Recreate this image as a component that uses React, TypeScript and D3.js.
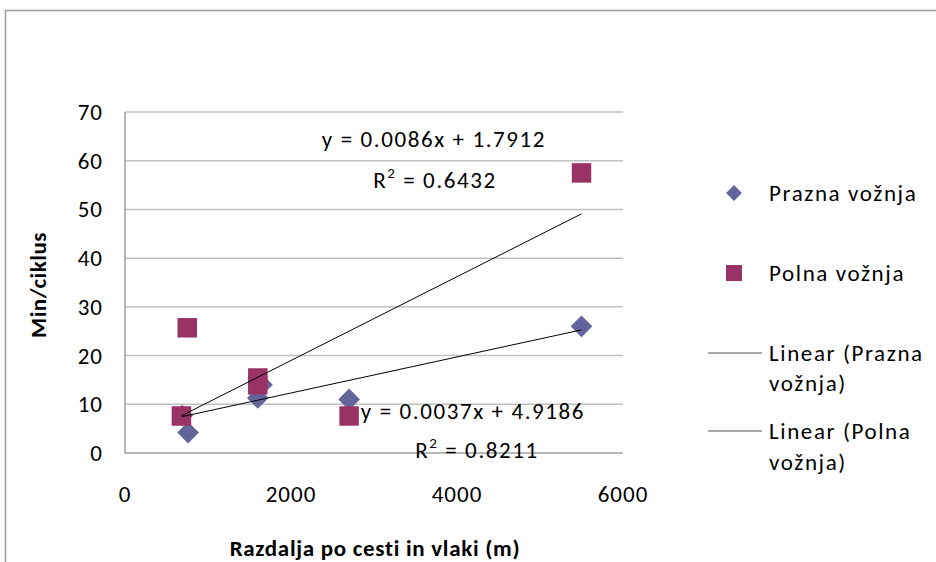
import React from "react";
import * as d3 from "d3";

const praznaX = [690, 760, 1600, 1650, 2700, 5500];
const praznaY = [7.7, 4.2, 11.3, 14, 11, 26];
const polnaX = [680, 750, 1600, 1600, 2700, 5500];
const polnaY = [7.6, 25.7, 15.4, 14, 7.6, 57.5];
const praznaTrend = [0.0037, 4.9186];
const polnaTrend = [0.0086, 1.7912];
const praznaR2 = "0.8211";
const polnaR2 = "0.6432";
const yTicks = [0, 10, 20, 30, 40, 50, 60, 70];
const xTicks = [0, 2000, 4000, 6000];
const legendLabels = ["Prazna vožnja", "Polna vožnja", "Linear (Prazna", "vožnja)", "Linear (Polna", "vožnja)"];

const W = 936, H = 562;
const FONT = "Carlito, Calibri, Lato, 'Open Sans', sans-serif";
const C_PRAZNA = "#64649c";
const C_POLNA = "#993366";
const FS = 23;
const LS = 1;
const LS2 = 1.6;

export default function App() {
  const x = d3.scaleLinear().domain([0, 6000]).range([125, 623]);
  const y = d3.scaleLinear().domain([0, 70]).range([453, 112]);
  const diamond = d3.symbol().type(d3.symbolDiamond2).size(300)();
  const square = d3.symbol().type(d3.symbolSquare).size(380)();
  const trendLine = (xs: number[], c: number[]) => {
    const x0 = d3.min(xs) as number, x1 = d3.max(xs) as number;
    return d3.line<number>().x((v) => x(v)).y((v) => y(c[0] * v + c[1]))([x0, x1]);
  };
  const T = (props: any) => <text fontSize={FS} letterSpacing={LS} fill="#000" dy="0.35em" {...props} />;
  return (
    <svg width={W} height={H} style={{ position: "absolute", left: 0, top: 0, background: "#fff" }} fontFamily={FONT}>
      <rect x={0} y={0} width={W} height={H} fill="#fff" />
      <path d="M5.5,562 V10.5 H936" fill="none" stroke="#9a9a9a" strokeWidth={1.5} />
      {yTicks.map((t) => (
        <g key={t}>
          {t > 0 && <line x1={x(0)} x2={x(6000)} y1={y(t)} y2={y(t)} stroke="#c0c0c0" strokeWidth={1.5} />}
          <T x={103} y={y(t)} textAnchor="end">{t}</T>
        </g>
      ))}
      <path d={`M${x(0)},${y(70)} V${y(0)} H${x(6000)}`} fill="none" stroke="#a0a0a0" strokeWidth={1.5} />
      {xTicks.map((t) => (
        <T key={t} x={x(t)} y={494} textAnchor="middle">{t}</T>
      ))}
      <T x={375} y={548} textAnchor="middle" fontWeight="bold" letterSpacing={0.7}>Razdalja po cesti in vlaki (m)</T>
      <T transform={`translate(38,${285}) rotate(-90)`} textAnchor="middle" fontWeight="bold" letterSpacing={0.5}>Min/ciklus</T>

      {praznaX.map((v, i) => (
        <path key={"p" + i} d={diamond} transform={`translate(${x(v)},${y(praznaY[i])})`} fill={C_PRAZNA} />
      ))}
      {polnaX.map((v, i) => (
        <path key={"q" + i} d={square} transform={`translate(${x(v)},${y(polnaY[i])})`} fill={C_POLNA} />
      ))}
      <path d={trendLine(praznaX, praznaTrend) || ""} stroke="#000" strokeWidth={1} fill="none" />
      <path d={trendLine(polnaX, polnaTrend) || ""} stroke="#000" strokeWidth={1} fill="none" />

      <T x={434} y={139} textAnchor="middle" letterSpacing={LS2}>{`y = ${polnaTrend[0]}x + ${polnaTrend[1]}`}</T>
      <T x={435} y={180} textAnchor="middle" letterSpacing={LS2}>R<tspan dy="-10" fontSize={15}>2</tspan><tspan dy="10">{` = ${polnaR2}`}</tspan></T>
      <T x={473} y={411} textAnchor="middle" letterSpacing={LS2}>{`y = ${praznaTrend[0]}x + ${praznaTrend[1]}`}</T>
      <T x={477} y={450} textAnchor="middle" letterSpacing={LS2}>R<tspan dy="-10" fontSize={15}>2</tspan><tspan dy="10">{` = ${praznaR2}`}</tspan></T>

      <path d={d3.symbol().type(d3.symbolDiamond2).size(160)() || ""} transform="translate(734,193)" fill={C_PRAZNA} />
      <T x={769} y={193} letterSpacing={LS2}>{legendLabels[0]}</T>
      <rect x={726} y={265} width={16} height={16} fill={C_POLNA} />
      <T x={769} y={273} letterSpacing={LS2}>{legendLabels[1]}</T>
      <line x1={708} x2={762} y1={353} y2={353} stroke="#555" strokeWidth={1.2} />
      <T x={769} y={353} letterSpacing={LS2}>{legendLabels[2]}</T>
      <T x={769} y={383} letterSpacing={LS2}>{legendLabels[3]}</T>
      <line x1={708} x2={762} y1={431} y2={431} stroke="#555" strokeWidth={1.2} />
      <T x={769} y={431} letterSpacing={LS2}>{legendLabels[4]}</T>
      <T x={769} y={462} letterSpacing={LS2}>{legendLabels[5]}</T>
    </svg>
  );
}
